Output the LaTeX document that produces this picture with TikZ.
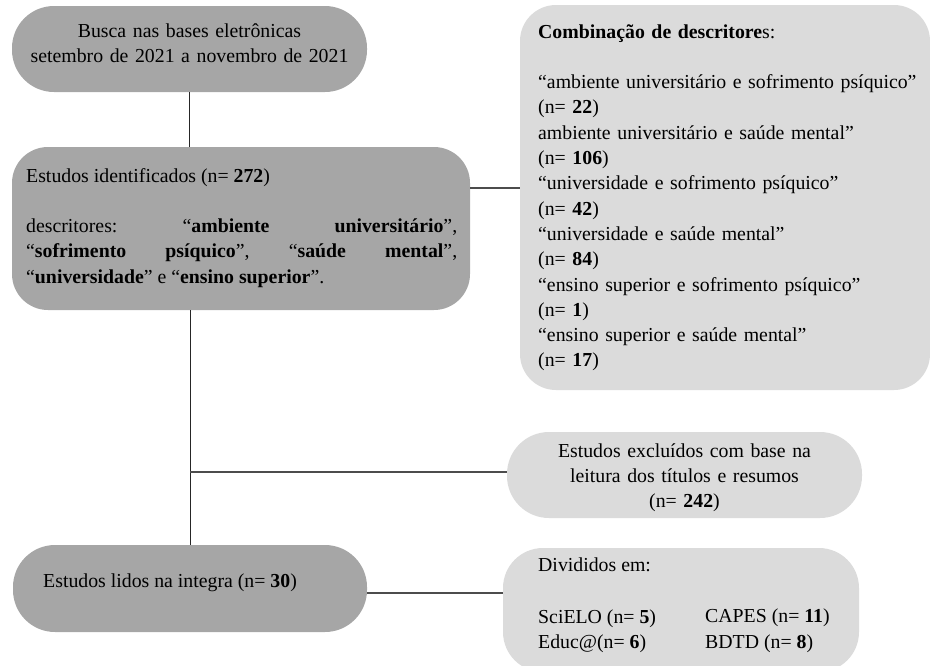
\documentclass[tikz,border=0pt]{standalone}
\usepackage{fontspec}
\setmainfont{Liberation Serif}
\definecolor{darkfill}{HTML}{A6A6A6}
\definecolor{lightfill}{HTML}{DBDBDB}
\frenchspacing
\begin{document}
\begin{tikzpicture}[x=1pt,y=-1pt,
  box/.style={rectangle, draw=none, inner sep=0pt},
  darkbox/.style={box, fill=darkfill},
  lightbox/.style={box, fill=lightfill},
  txt/.style={inner sep=0pt, font=\fontsize{19.8}{25.3}\selectfont},
  vline/.style={draw=black!85, line width=1pt},
  hline/.style={draw=black!70, line width=1.2pt}]
\useasboundingbox (0,0) rectangle (930,665);
% boxes
\node[darkbox, rounded corners=42pt, minimum width=355pt, minimum height=86pt] (busca) at (189.5,49) {};
\node[darkbox, rounded corners=36pt, minimum width=458pt, minimum height=163pt] (ident) at (241,228.5) {};
\node[lightbox, rounded corners=36pt, minimum width=410pt, minimum height=385pt] (comb) at (725,197.5) {};
\node[lightbox, rounded corners=42pt, minimum width=355pt, minimum height=86pt] (excl) at (684.5,475) {};
\node[darkbox, rounded corners=42pt, minimum width=354pt, minimum height=87pt] (lidos) at (190,588.5) {};
\node[lightbox, rounded corners=40pt, minimum width=356pt, minimum height=124pt] (divid) at (681,610) {};
% texts
\node[txt, text width=340pt, align=center, anchor=base] (tbusca) at (189.5,37)
  {Busca nas bases eletrônicas\\ setembro de 2021 a novembro de 2021};
\node[txt, text width=431pt, align=justify, anchor=base west] (tident) at (26,182)
  {\parindent=0pt\tolerance=10000\hyphenpenalty=10000
   Estudos identificados (n= \textbf{272})\par\vspace{25.3pt}
   descritores: “\textbf{ambiente universitário}”,\linebreak
   “\textbf{sofrimento psíquico}”, “\textbf{saúde mental}”,\linebreak
   “\textbf{universidade}” e “\textbf{ensino superior}”.};
\node[txt, text width=400pt, align=left, anchor=base west] (tcomb) at (538,38)
  {\textbf{Combinação de descritore}s:\\[25.3pt]
   “ambiente universitário e sofrimento psíquico”\\
   (n= \textbf{22})\\
   ambiente universitário e saúde mental”\\
   (n= \textbf{106})\\
   “universidade e sofrimento psíquico”\\
   (n= \textbf{42})\\
   “universidade e saúde mental”\\
   (n= \textbf{84})\\
   “ensino superior e sofrimento psíquico”\\
   (n= \textbf{1})\\
   “ensino superior e saúde mental”\\
   (n= \textbf{17})};
\node[txt, text width=330pt, align=center, anchor=base] (texcl) at (684.5,457)
  {Estudos excluídos com base na\\ leitura dos títulos e resumos\\ (n= \textbf{242})};
\node[txt, anchor=base west] (tlidos) at (43,587) {Estudos lidos na integra (n= \textbf{30})};
\node[txt, anchor=base west] (tdivid) at (538,571) {Divididos em:};
\node[txt, anchor=base west] (tsci) at (538,623) {SciELO (n= \textbf{5})};
\node[txt, anchor=base west] (tedu) at (538,648) {Educ@(n= \textbf{6})};
\node[txt, anchor=base west] (tcap) at (705,622) {CAPES (n= \textbf{11})};
\node[txt, anchor=base west] (tbdtd) at (705,648) {BDTD (n= \textbf{8})};
% connectors
\coordinate (j1) at (470,188);
\coordinate (br) at (190,472);
\coordinate (j2) at (367,593);
\draw[vline] (busca.south) -- (busca.south |- ident.north);
\draw[hline] (ident.east |- j1) -- (comb.west |- j1);
\draw[vline] (ident.south -| lidos.north) -- (lidos.north);
\draw[hline] (br) -- (br -| excl.west);
\draw[hline] (lidos.east |- j2) -- (divid.west |- j2);
\end{tikzpicture}
\end{document}
